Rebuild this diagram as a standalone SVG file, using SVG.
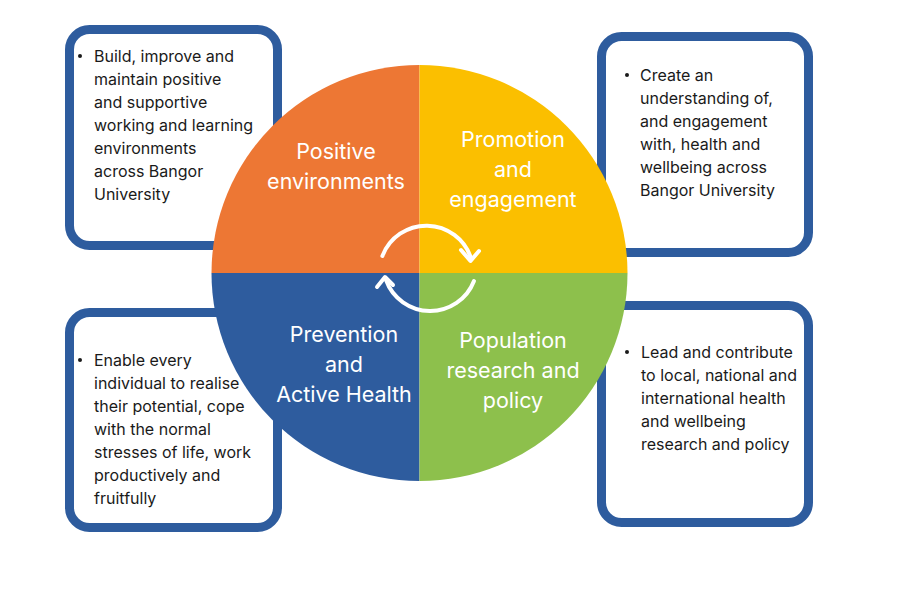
<svg xmlns="http://www.w3.org/2000/svg" width="900" height="600" viewBox="0 0 900 600">
<defs>
<style>
.box{fill:#fff;stroke:#2E5C9E;stroke-width:9}
.bt{font-family:Inter,"Liberation Sans",sans-serif;font-size:16px;fill:#1a1a1a}
.lt{font-family:Inter,"Liberation Sans",sans-serif;font-size:21.5px;fill:#fff;text-anchor:middle}
.arc{fill:none;stroke:#fff;stroke-width:4;stroke-linecap:round;stroke-linejoin:round}
</style>
</defs>
<rect width="900" height="600" fill="#fff"/>
<g id="box-positive">
<rect class="box" x="69.5" y="29.5" width="208" height="216" rx="20"/>
<circle cx="80" cy="56" r="2" fill="#1a1a1a"/>
<text class="bt" x="94" y="62">Build, improve and</text>
<text class="bt" x="94" y="85">maintain positive</text>
<text class="bt" x="94" y="108">and supportive</text>
<text class="bt" x="94" y="131">working and learning</text>
<text class="bt" x="94" y="154">environments</text>
<text class="bt" x="94" y="177">across Bangor</text>
<text class="bt" x="94" y="200">University</text>
</g>
<g id="box-promotion">
<rect class="box" x="601.5" y="36.5" width="207" height="216" rx="20"/>
<circle cx="627" cy="75" r="2" fill="#1a1a1a"/>
<text class="bt" x="640" y="81">Create an</text>
<text class="bt" x="640" y="104">understanding of,</text>
<text class="bt" x="640" y="127">and engagement</text>
<text class="bt" x="640" y="150">with, health and</text>
<text class="bt" x="640" y="173">wellbeing across</text>
<text class="bt" x="640" y="196">Bangor University</text>
</g>
<g id="box-prevention">
<rect class="box" x="69.5" y="312.5" width="208" height="215" rx="20"/>
<circle cx="80" cy="360" r="2" fill="#1a1a1a"/>
<text class="bt" x="94" y="366">Enable every</text>
<text class="bt" x="94" y="389">individual to realise</text>
<text class="bt" x="94" y="412">their potential, cope</text>
<text class="bt" x="94" y="435">with the normal</text>
<text class="bt" x="94" y="458">stresses of life, work</text>
<text class="bt" x="94" y="481">productively and</text>
<text class="bt" x="94" y="504">fruitfully</text>
</g>
<g id="box-population">
<rect class="box" x="601.5" y="305.5" width="207" height="217" rx="20"/>
<circle cx="627" cy="352" r="2" fill="#1a1a1a"/>
<text class="bt" x="641" y="358">Lead and contribute</text>
<text class="bt" x="641" y="381">to local, national and</text>
<text class="bt" x="641" y="404">international health</text>
<text class="bt" x="641" y="427">and wellbeing</text>
<text class="bt" x="641" y="450">research and policy</text>
</g>
<g id="quadrant-positive">
<path d="M419.5,273 L211.5,273 A208,208 0 0 1 419.5,65 Z" fill="#ED7734"/>
<text class="lt" x="336" y="159">Positive</text>
<text class="lt" x="336" y="189">environments</text>
</g>
<g id="quadrant-promotion">
<path d="M419.5,273 L419.5,65 A208,208 0 0 1 627.5,273 Z" fill="#FBBF00"/>
<text class="lt" x="513" y="147">Promotion</text>
<text class="lt" x="513" y="177">and</text>
<text class="lt" x="513" y="207">engagement</text>
</g>
<g id="quadrant-prevention">
<path d="M419.5,273 L419.5,481 A208,208 0 0 1 211.5,273 Z" fill="#2E5C9E"/>
<text class="lt" x="344" y="342">Prevention</text>
<text class="lt" x="344" y="372">and</text>
<text class="lt" x="344" y="402">Active Health</text>
</g>
<g id="quadrant-population">
<path d="M419.5,273 L627.5,273 A208,208 0 0 1 419.5,481 Z" fill="#8DC04C"/>
<text class="lt" x="513" y="348">Population</text>
<text class="lt" x="513" y="378">research and</text>
<text class="lt" x="513" y="408">policy</text>
</g>
<g id="connectors">
<path class="arc" d="M382.4,256 A47,47 0 0 1 471,258"/>
<path class="arc" d="M461,250 L470.5,261 L479,251"/>
<path class="arc" d="M474,281 A47,47 0 0 1 386,280"/>
<path class="arc" d="M377,287 L385,277 L393,285"/>
</g>
</svg>
